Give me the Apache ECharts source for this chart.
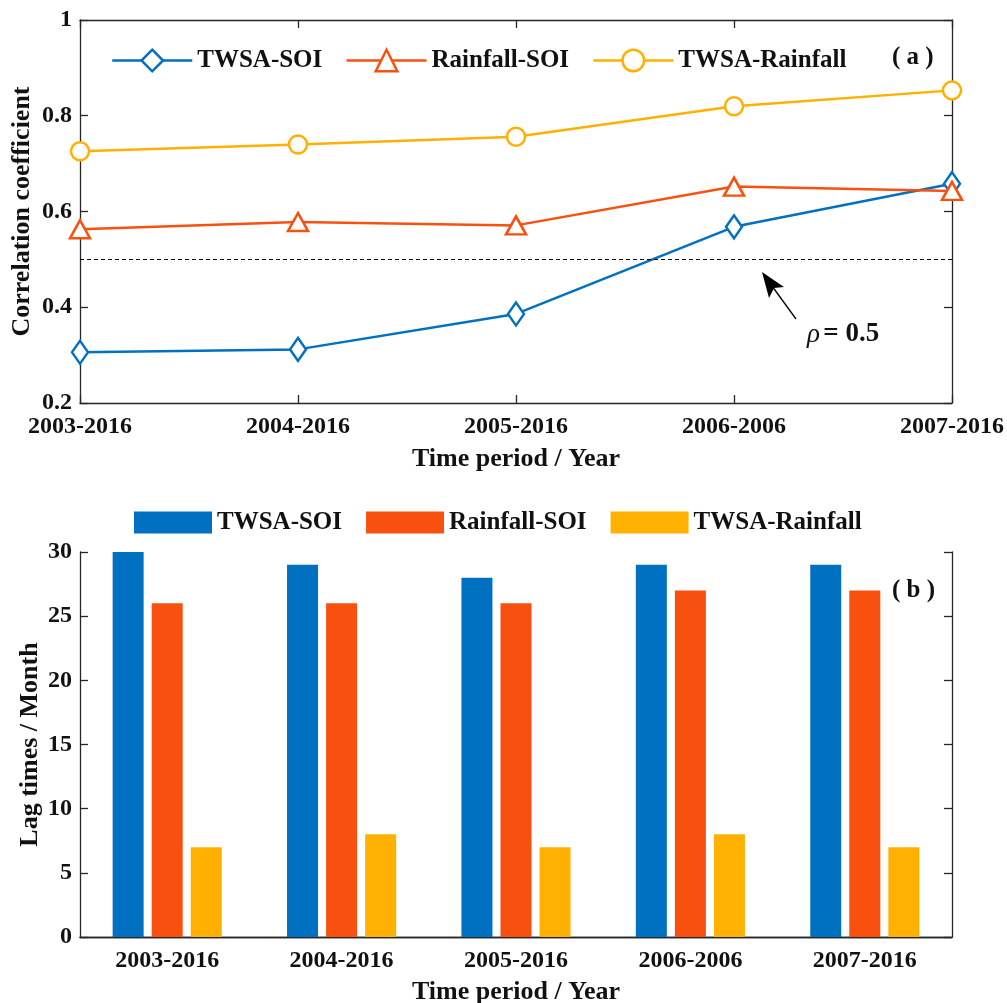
<!DOCTYPE html>
<html>
<head>
<meta charset="utf-8">
<script src="https://cdn.jsdelivr.net/npm/echarts@6/dist/echarts.min.js"></script>
<style>
html, body { margin: 0; padding: 0; background: #fff; }
#main { width: 1007px; height: 1003px; }
</style>
</head>
<body>
<div id="main"></div>
<script>
// 时间段
let periods = ['2003-2016', '2004-2016', '2005-2016', '2006-2006', '2007-2016'];
// (a) 相关系数
let corrTwsaSoi = [0.306, 0.312, 0.386, 0.568, 0.658];
let corrRainSoi = [0.563, 0.578, 0.571, 0.652, 0.643];
let corrTwsaRain = [0.726, 0.740, 0.756, 0.820, 0.853];
let rhoLine = 0.5;
// (b) 滞后时间
let lagTwsaSoi = [30, 29, 28, 29, 29];
let lagRainSoi = [26, 26, 26, 27, 27];
let lagTwsaRain = [7, 8, 7, 8, 7];

let font = "'Liberation Serif', 'Times New Roman', serif";
let axisColor = '#262626';
let textColor = '#111';
let blue = '#0070C0';
let orange = '#F8500F';
let yellow = '#FFB000';

let myChart = echarts.init(document.getElementById('main'));

function mainX(grid, gap, nameGap){
    return {
        gridIndex: grid,
        type: 'category',
        data: periods,
        boundaryGap: gap,
        position: 'bottom',
        axisLine: { lineStyle: { color: axisColor, width: 1.3 } },
        axisTick: { inside: true, length: 8, alignWithLabel: true, lineStyle: { color: axisColor, width: 1.3 } },
        axisLabel: { fontFamily: font, fontWeight: 'bold', fontSize: 24, color: textColor, margin: 12 },
        name: 'Time period / Year',
        nameLocation: 'middle',
        nameGap: nameGap,
        nameTextStyle: { fontFamily: font, fontWeight: 'bold', fontSize: 26, color: textColor }
    };
}
function mirrorX(grid, gap){
    return {
        gridIndex: grid,
        type: 'category',
        data: periods,
        boundaryGap: gap,
        position: 'top',
        axisLine: { lineStyle: { color: axisColor, width: 1.3 } },
        axisTick: { inside: true, length: 8, alignWithLabel: true, lineStyle: { color: axisColor, width: 1.3 } },
        axisLabel: { show: false }
    };
}
function mainY(grid, min, max, interval, name, gap){
    return {
        gridIndex: grid,
        type: 'value',
        min: min, max: max, interval: interval,
        position: 'left',
        splitLine: { show: false },
        axisLine: { show: true, lineStyle: { color: axisColor, width: 1.3 } },
        axisTick: { show: true, inside: true, length: 8, lineStyle: { color: axisColor, width: 1.3 } },
        axisLabel: { fontFamily: font, fontWeight: 'bold', fontSize: 24, color: textColor, margin: 8 },
        name: name,
        nameLocation: 'middle',
        nameGap: gap,
        nameMoveOverlap: false,
        nameTextStyle: { fontFamily: font, fontWeight: 'bold', fontSize: 26, color: textColor }
    };
}
function mirrorY(grid, min, max, interval){
    return {
        gridIndex: grid,
        type: 'value',
        min: min, max: max, interval: interval,
        position: 'right',
        splitLine: { show: false },
        axisLine: { show: true, lineStyle: { color: axisColor, width: 1.3 } },
        axisTick: { show: true, inside: true, length: 8, lineStyle: { color: axisColor, width: 1.3 } },
        axisLabel: { show: false }
    };
}
function lineSeries(name, data, color, symbol, size){
    return {
        name: name,
        type: 'line',
        xAxisIndex: 0,
        yAxisIndex: 0,
        data: data,
        symbol: symbol,
        symbolSize: size,
        showAllSymbol: true,
        clip: false,
        color: color,
        lineStyle: { color: color, width: 2.5 },
        itemStyle: { color: '#fff', borderColor: color, borderWidth: 2.5 }
    };
}
function barSeries(name, data, color){
    return {
        name: 'b:' + name,
        type: 'bar',
        xAxisIndex: 2,
        yAxisIndex: 2,
        data: data,
        barWidth: 31,
        barGap: '26%',
        itemStyle: { color: color }
    };
}

let twsaSoiLine = lineSeries('TWSA-SOI', corrTwsaSoi, blue, 'diamond', [16, 23]);
twsaSoiLine.markLine = {
    silent: true,
    symbol: 'none',
    label: { show: false },
    lineStyle: { color: '#000', type: [4, 3], width: 1.2 },
    data: [{ yAxis: rhoLine }]
};

let option = {
    backgroundColor: '#fff',
    animation: false,
    grid: [
        { left: 80, top: 20, width: 872, height: 383, containLabel: false, outerBoundsMode: 'none' },
        { left: 80, top: 552, width: 872, height: 385, containLabel: false, outerBoundsMode: 'none' }
    ],
    legend: [
        {
            data: ['TWSA-SOI', 'Rainfall-SOI', 'TWSA-Rainfall'],
            left: 106, top: 43,
            itemWidth: 80, itemHeight: 27, itemGap: 23,
            lineStyle: { width: 2.5 },
            itemStyle: { borderWidth: 2.5 },
            textStyle: { fontFamily: font, fontWeight: 'bold', fontSize: 25, color: textColor }
        },
        {
            data: ['b:TWSA-SOI', 'b:Rainfall-SOI', 'b:TWSA-Rainfall'],
            formatter: function(name){ return name.replace('b:', ''); },
            icon: 'rect',
            left: 129, top: 505,
            itemWidth: 78, itemHeight: 22, itemGap: 24,
            textStyle: { fontFamily: font, fontWeight: 'bold', fontSize: 25, color: textColor }
        }
    ],
    xAxis: [mainX(0, false, 43), mirrorX(0, false), mainX(1, true, 42), mirrorX(1, true)],
    yAxis: [
        mainY(0, 0.2, 1, 0.2, 'Correlation coefficient', 45),
        mirrorY(0, 0.2, 1, 0.2),
        mainY(1, 0, 30, 5, 'Lag times / Month', 37),
        mirrorY(1, 0, 30, 5)
    ],
    series: [
        twsaSoiLine,
        lineSeries('Rainfall-SOI', corrRainSoi, orange, 'triangle', [20, 18]),
        lineSeries('TWSA-Rainfall', corrTwsaRain, yellow, 'circle', 18),
        barSeries('TWSA-SOI', lagTwsaSoi, blue),
        barSeries('Rainfall-SOI', lagRainSoi, orange),
        barSeries('TWSA-Rainfall', lagTwsaRain, yellow)
    ],
    graphic: [
        {
            type: 'text', left: 892, top: 45,
            style: { text: '( a )', fontFamily: font, fontWeight: 'bold', fontSize: 25, fill: textColor }
        },
        {
            type: 'text', left: 892, top: 578,
            style: { text: '( b )', fontFamily: font, fontWeight: 'bold', fontSize: 25, fill: textColor }
        },
        // 箭头
        {
            type: 'line',
            shape: { x1: 796, y1: 319, x2: 772, y2: 286 },
            style: { stroke: '#000', lineWidth: 1.3 }
        },
        {
            type: 'polygon',
            shape: { points: [[762, 272], [784, 287], [774, 288], [769, 298]] },
            style: { fill: '#000' }
        },
        {
            type: 'text', left: 807, top: 321,
            style: {
                text: '{i|ρ} {b|= 0.5}',
                rich: {
                    i: { fontFamily: font, fontStyle: 'italic', fontSize: 27, fill: textColor },
                    b: { fontFamily: font, fontWeight: 'bold', fontSize: 27, fill: textColor }
                }
            }
        }
    ]
};
myChart.setOption(option);
</script>
</body>
</html>
